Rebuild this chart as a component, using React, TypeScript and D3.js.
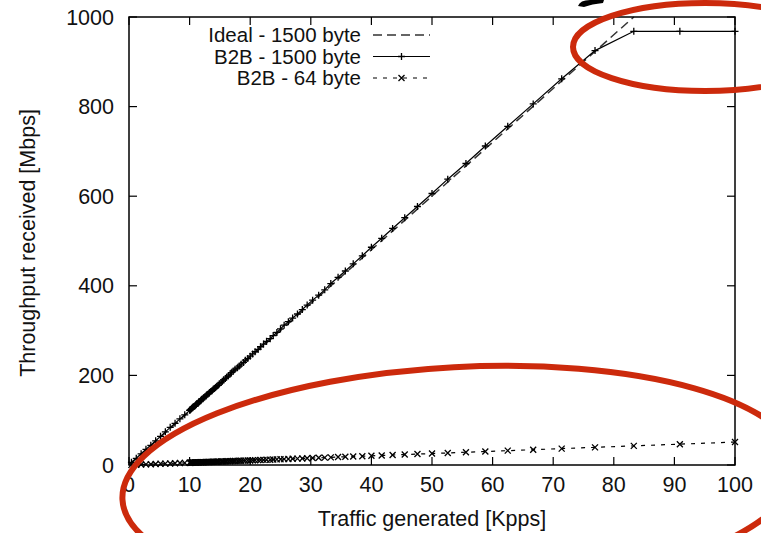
import React from "react";
import * as d3 from "d3";

const X_TICKS = [0, 10, 20, 30, 40, 50, 60, 70, 80, 90, 100];
const Y_TICKS = [0, 200, 400, 600, 800, 1000];

const IDEAL_X = [0, 83.3];
const IDEAL_Y = [0, 1000];

const TRAFFIC = [
  0.4, 1.2, 2, 2.8, 3.6, 4.4, 5.2, 6, 6.8, 7.6, 8.4, 9.2,
  10, 10.1, 10.2, 10.3, 10.4, 10.5, 10.6, 10.8, 10.9, 11, 11.1, 11.2, 11.4, 11.5, 11.6, 11.8, 11.9,
  12, 12.2, 12.3, 12.5, 12.7, 12.8, 13, 13.2, 13.3, 13.5, 13.7, 13.9, 14.1, 14.3, 14.5, 14.7, 14.9,
  15.2, 15.4, 15.6, 15.9, 16.1, 16.4, 16.7, 16.9, 17.2, 17.5, 17.9, 18.2, 18.5, 18.9, 19.2, 19.6,
  20, 20.4, 20.8, 21.3, 21.7, 22.2, 22.7, 23.3, 23.8, 24.4, 25, 25.6, 26.3, 27, 27.8, 28.6, 29.4,
  30.3, 31.3, 32.3, 33.3, 34.5, 35.7, 37, 38.5, 40, 41.7, 43.5, 45.5, 47.6, 50, 52.6, 55.6, 58.8,
  62.5, 66.7, 71.4, 76.9, 83.3, 90.9, 100,
];

const B2B_1500 = [
  6, 15, 25, 35, 44, 54, 64, 74, 84, 93, 103, 112,
  122, 123, 124, 126, 127, 128, 130, 131, 132, 134, 135, 137, 138, 140, 142, 143, 145,
  147, 148, 150, 152, 154, 156, 158, 160, 162, 164, 166, 169, 171, 173, 176, 178, 181,
  184, 187, 190, 193, 196, 199, 203, 206, 210, 214, 217, 221, 225, 229, 234, 238,
  243, 248, 253, 258, 264, 270, 276, 282, 289, 296, 304, 312, 320, 328, 337, 347, 357,
  368, 379, 391, 405, 419, 433, 449, 467, 486, 506, 528, 552, 577, 606, 638, 673, 712,
  756, 806, 862, 925, 968, 968, 968,
];

const B2B_64 = [
  0.2, 0.6, 1.0, 1.4, 1.8, 2.3, 2.7, 3.1, 3.5, 3.9, 4.3, 4.7,
  5.1, 5.2, 5.2, 5.3, 5.3, 5.4, 5.4, 5.5, 5.6, 5.6, 5.7, 5.8, 5.8, 5.9, 5.9, 6.0, 6.1,
  6.1, 6.2, 6.3, 6.4, 6.5, 6.6, 6.6, 6.7, 6.8, 6.9, 7.0, 7.1, 7.2, 7.3, 7.4, 7.5, 7.6,
  7.8, 7.9, 8.0, 8.1, 8.3, 8.4, 8.5, 8.7, 8.8, 9.0, 9.1, 9.3, 9.5, 9.7, 9.8, 10.0,
  10.2, 10.4, 10.7, 10.9, 11.1, 11.4, 11.6, 11.9, 12.2, 12.5, 12.8, 13.1, 13.5, 13.8, 14.2, 14.6, 15.1,
  15.5, 16.0, 16.5, 17.0, 17.7, 18.3, 18.9, 19.7, 20.5, 21.3, 22.3, 23.3, 24.4, 25.6, 26.9, 28.5, 30.1,
  32.0, 34.1, 36.6, 39.4, 42.7, 46.5, 51.2,
];

const LEGEND = ["Ideal - 1500 byte", "B2B - 1500 byte", "B2B - 64 byte"];

const W = 761;
const H = 533;
const L = 129, R = 735, T = 17, B = 465;
const FONT = "'Liberation Sans', Arial, Helvetica, sans-serif";
const RED = "#cc2a0c";
const FS = 21.5;
const LFS = 20.5;

export default function App() {
  const x = d3.scaleLinear().domain([0, 100]).range([L, R]);
  const y = d3.scaleLinear().domain([0, 1000]).range([B, T]);
  const line = d3.line<[number, number]>().x((d) => x(d[0])).y((d) => y(d[1]));

  const ideal: [number, number][] = IDEAL_X.map((v, i) => [v, IDEAL_Y[i]]);
  const s1500: [number, number][] = TRAFFIC.map((v, i) => [v, B2B_1500[i]]);
  const s64: [number, number][] = TRAFFIC.map((v, i) => [v, B2B_64[i]]);

  const tick = 8;
  const plus = (cx: number, cy: number, k: string, r = 3.5) => (
    <path key={k} d={`M${cx - r},${cy}H${cx + r}M${cx},${cy - r}V${cy + r}`} stroke="#000" strokeWidth={1.3} fill="none" />
  );
  const cross = (cx: number, cy: number, k: string, r = 3) => (
    <path key={k} d={`M${cx - r},${cy - r}L${cx + r},${cy + r}M${cx - r},${cy + r}L${cx + r},${cy - r}`} stroke="#000" strokeWidth={1.3} fill="none" />
  );

  const legendRows = [35, 56.5, 78];
  const lx0 = 373, lx1 = 430;

  return (
    <svg width={W} height={H} style={{ position: "absolute", left: 0, top: 0, background: "#fff" }} fontFamily={FONT}>
      <rect x={0} y={0} width={W} height={H} fill="#fff" />
      {X_TICKS.map((t) => (
        <g key={"xt" + t}>
          <line x1={x(t)} x2={x(t)} y1={B} y2={B - tick} stroke="#000" strokeWidth={1.2} />
          <line x1={x(t)} x2={x(t)} y1={T} y2={T + tick} stroke="#000" strokeWidth={1.2} />
          <text x={x(t)} y={491.5} fontSize={FS} textAnchor="middle" fill="#111">{t}</text>
        </g>
      ))}
      {Y_TICKS.map((t) => (
        <g key={"yt" + t}>
          <line x1={L} x2={L + tick} y1={y(t)} y2={y(t)} stroke="#000" strokeWidth={1.2} />
          <line x1={R} x2={R - tick} y1={y(t)} y2={y(t)} stroke="#000" strokeWidth={1.2} />
          <text x={114} y={y(t) + 7.5} fontSize={FS} textAnchor="end" fill="#111">{t}</text>
        </g>
      ))}
      <path d={line(ideal) || ""} fill="none" stroke="#333" strokeWidth={1.5} strokeDasharray="9,5" />
      <path d={line(s1500) || ""} fill="none" stroke="#000" strokeWidth={1.2} />
      {s1500.map((d, i) => plus(x(d[0]), y(d[1]), "p" + i))}
      <path d={line(s64) || ""} fill="none" stroke="#000" strokeWidth={1.2} strokeDasharray="4,6" />
      {s64.map((d, i) => cross(x(d[0]), y(d[1]), "c" + i))}
      <rect x={L} y={T} width={R - L} height={B - T} fill="none" stroke="#000" strokeWidth={1.5} />
      {LEGEND.map((lab, i) => (
        <text key={"lg" + i} x={361} y={legendRows[i] + 7.2} fontSize={LFS} textAnchor="end" fill="#111">{lab}</text>
      ))}
      <line x1={lx0} x2={lx1} y1={legendRows[0]} y2={legendRows[0]} stroke="#333" strokeWidth={1.5} strokeDasharray="9,5" />
      <line x1={lx0} x2={lx1} y1={legendRows[1]} y2={legendRows[1]} stroke="#000" strokeWidth={1.2} />
      {plus((lx0 + lx1) / 2, legendRows[1], "lp")}
      <line x1={lx0} x2={lx1} y1={legendRows[2]} y2={legendRows[2]} stroke="#000" strokeWidth={1.2} strokeDasharray="4,6" />
      {cross((lx0 + lx1) / 2, legendRows[2], "lc")}
      <text x={432} y={526} fontSize={FS} textAnchor="middle" fill="#111">Traffic generated [Kpps]</text>
      <text transform="translate(35,243) rotate(-90)" fontSize={FS} textAnchor="middle" fill="#111">Throughput received [Mbps]</text>
      <path d="M578,6 Q580,0 590,0 L604,0 L603,3 Q592,4 584,7 Z" fill="#000" />
      <ellipse cx={705} cy={47} rx={132} ry={44} fill="none" stroke={RED} strokeWidth={6} />
      <ellipse cx={460} cy={482} rx={338} ry={115} fill="none" stroke={RED} strokeWidth={6} transform="rotate(-3 460 482)" />
    </svg>
  );
}
